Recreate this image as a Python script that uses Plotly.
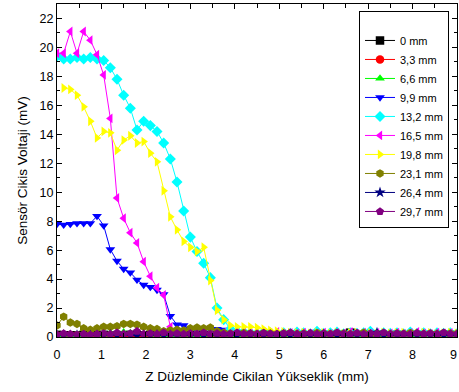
import plotly.graph_objects as go

x_mm = [0.0, 0.15, 0.3, 0.45, 0.6, 0.75, 0.9, 1.05, 1.2, 1.35,
        1.5, 1.65, 1.8, 1.95, 2.1, 2.25, 2.4, 2.55, 2.7, 2.85,
        3.0, 3.15, 3.3, 3.45, 3.6, 3.75, 3.9, 4.05, 4.2, 4.35,
        4.5, 4.65, 4.8, 4.95, 5.1, 5.25, 5.4, 5.55, 5.7, 5.85,
        6.0, 6.15, 6.3, 6.45, 6.6, 6.75, 6.9, 7.05, 7.2, 7.35,
        7.5, 7.65, 7.8, 7.95, 8.1, 8.25, 8.4, 8.55, 8.7, 8.85,
        9.0]

labels = ["0 mm", "3,3 mm", "6,6 mm", "9,9 mm", "13,2 mm",
          "16,5 mm", "19,8 mm", "23,1 mm", "26,4 mm", "29,7 mm"]

y_0_0 = [0.15, 0.10, 0.12, 0.10, 0.15, 0.10, 0.12, 0.15, 0.10, 0.12,
         0.10, 0.15, 0.12, 0.10, 0.15, 0.12, 0.10, 0.20, 0.15, 0.12,
         0.10, 0.15, 0.12, 0.10, 0.15, 0.12, 0.10, 0.12, 0.15, 0.10,
         0.12, 0.10, 0.15, 0.12, 0.10, 0.12, 0.15, 0.10, 0.12, 0.20,
         0.15, 0.12, 0.10, 0.15, 0.30, 0.12, 0.10, 0.15, 0.12, 0.10,
         0.12, 0.15, 0.10, 0.12, 0.10, 0.15, 0.12, 0.10, 0.12, 0.15,
         0.10]
y_3_3 = [0.08, 0.10, 0.12, 0.08, 0.10, 0.12, 0.10, 0.08, 0.12, 0.10,
         0.12, 0.10, 0.08, 0.10, 0.12, 0.15, 0.10, 0.08, 0.10, 0.12,
         0.10, 0.08, 0.12, 0.10, 0.10, 0.12, 0.08, 0.10, 0.12, 0.10,
         0.08, 0.10, 0.12, 0.10, 0.08, 0.12, 0.10, 0.10, 0.08, 0.12,
         0.10, 0.12, 0.08, 0.10, 0.12, 0.10, 0.08, 0.12, 0.10, 0.10,
         0.12, 0.08, 0.10, 0.12, 0.10, 0.08, 0.10, 0.12, 0.10, 0.08,
         0.10]
y_6_6 = [0.15, 0.18, 0.20, 0.15, 0.18, 0.22, 0.20, 0.18, 0.30, 0.25,
         0.32, 0.28, 0.30, 0.22, 0.20, 0.18, 0.20, 0.15, 0.18, 0.20,
         0.18, 0.15, 0.20, 0.18, 0.22, 0.20, 0.18, 0.15, 0.20, 0.18,
         0.20, 0.22, 0.18, 0.15, 0.20, 0.18, 0.22, 0.20, 0.18, 0.25,
         0.20, 0.18, 0.22, 0.20, 0.18, 0.15, 0.20, 0.22, 0.18, 0.20,
         0.18, 0.22, 0.20, 0.18, 0.15, 0.20, 0.18, 0.22, 0.20, 0.18,
         0.20]
y_9_9 = [7.80, 7.75, 7.80, 7.85, 7.85, 7.85, 8.35, 7.70, 6.05, 5.25,
         4.70, 4.45, 3.95, 3.60, 3.45, 3.25, 2.95, 1.45, 0.85, 0.80,
         0.55, 0.50, 0.50, 0.50, 0.55, 0.50, 0.45, 0.30, 0.22, 0.18,
         0.20, 0.15, 0.18, 0.22, 0.15, 0.20, 0.18, 0.15, 0.22, 0.18,
         0.20, 0.15, 0.18, 0.20, 0.22, 0.15, 0.20, 0.30, 0.18, 0.15,
         0.20, 0.18, 0.22, 0.15, 0.20, 0.18, 0.15, 0.20, 0.22, 0.18,
         0.20]
y_13_2 = [19.4, 19.2, 19.2, 19.3, 19.2, 19.3, 19.2, 19.1, 18.6, 17.8,
          16.7, 15.8, 14.3, 14.9, 14.6, 14.2, 13.4, 12.3, 10.7, 8.7,
          6.9, 5.9, 5.1, 4.1, 2.0, 1.2, 0.55, 0.40, 0.35, 0.30,
          0.25, 0.35, 0.30, 0.22, 0.30, 0.25, 0.35, 0.30, 0.22, 0.40,
          0.25, 0.30, 0.35, 0.22, 0.30, 0.25, 0.30, 0.40, 0.22, 0.30,
          0.25, 0.30, 0.22, 0.35, 0.25, 0.30, 0.22, 0.30, 0.25, 0.30,
          0.22]
y_16_5 = [19.6, 19.6, 21.1, 19.6, 21.1, 20.5, 19.5, 18.1, 15.1, 9.6,
          8.2, 7.2, 6.5, 5.2, 4.2, 3.4, 2.9, 0.7, 0.4, 0.3,
          0.25, 0.30, 0.22, 0.28, 0.25, 0.30, 0.22, 0.25, 0.30, 0.25,
          0.22, 0.30, 0.25, 0.35, 0.22, 0.28, 0.25, 0.30, 0.22, 0.25,
          0.30, 0.22, 0.28, 0.25, 0.35, 0.22, 0.30, 0.25, 0.28, 0.22,
          0.25, 0.30, 0.22, 0.28, 0.35, 0.25, 0.22, 0.30, 0.25, 0.28,
          0.25]
y_19_8 = [None, 17.2, 17.1, 16.7, 15.9, 14.9, 13.75, 14.2, 14.1, 12.9,
          13.6, 13.9, 13.4, 13.5, 12.7, 12.1, 10.1, 8.3, 7.4, 6.6,
          6.2, 5.9, 6.2, 3.9, 1.85, 1.2, 0.8, 0.7, 0.7, 0.7,
          0.65, 0.55, 0.45, 0.40, 0.35, 0.30, 0.28, 0.30, 0.25, 0.30,
          0.28, 0.25, 0.30, 0.22, 0.28, 0.30, 0.25, 0.28, 0.22, 0.30,
          0.25, 0.28, 0.30, 0.22, 0.25, 0.30, 0.28, 0.22, 0.25, 0.30,
          0.25]
y_23_1 = [0.8, 1.4, 1.0, 0.9, 0.6, 0.5, 0.6, 0.7, 0.7, 0.75,
          0.9, 0.9, 0.85, 0.7, 0.6, 0.55, 0.4, 0.45, 0.5, 0.45,
          0.6, 0.65, 0.6, 0.65, 0.4, 0.3, 0.25, 0.22, 0.28, 0.25,
          0.22, 0.28, 0.25, 0.20, 0.25, 0.28, 0.22, 0.25, 0.20, 0.28,
          0.25, 0.22, 0.28, 0.25, 0.20, 0.25, 0.30, 0.22, 0.25, 0.28,
          0.20, 0.25, 0.22, 0.28, 0.25, 0.20, 0.25, 0.22, 0.28, 0.25,
          0.22]
y_26_4 = [0.10, 0.15, 0.10, 0.12, 0.08, 0.10, 0.12, 0.10, 0.15, 0.10,
          0.12, 0.10, 0.08, 0.12, 0.10, 0.15, 0.10, 0.12, 0.10, 0.08,
          0.12, 0.10, 0.15, 0.10, 0.12, 0.08, 0.10, 0.12, 0.10, 0.15,
          0.10, 0.12, 0.08, 0.10, 0.15, 0.12, 0.10, 0.08, 0.12, 0.10,
          0.15, 0.10, 0.12, 0.10, 0.08, 0.12, 0.10, 0.15, 0.30, 0.10,
          0.12, 0.10, 0.08, 0.12, 0.10, 0.15, 0.10, 0.12, 0.10, 0.08,
          0.12]
y_29_7 = [0.15, 0.25, 0.20, 0.15, 0.20, 0.15, 0.20, 0.25, 0.20, 0.30,
          0.20, 0.25, 0.40, 0.20, 0.25, 0.20, 0.30, 0.20, 0.25, 0.20,
          0.25, 0.20, 0.30, 0.20, 0.25, 0.20, 0.22, 0.30, 0.20, 0.25,
          0.20, 0.28, 0.22, 0.20, 0.25, 0.30, 0.20, 0.22, 0.28, 0.20,
          0.25, 0.20, 0.30, 0.22, 0.20, 0.28, 0.20, 0.25, 0.22, 0.30,
          0.20, 0.25, 0.22, 0.20, 0.28, 0.22, 0.25, 0.20, 0.30, 0.22,
          0.20]

series = [y_0_0, y_3_3, y_6_6, y_9_9, y_13_2, y_16_5, y_19_8, y_23_1, y_26_4, y_29_7]
colors = ["#000000", "#FF0000", "#00FF00", "#0000FF", "#00FFFF",
          "#FF00FF", "#FFFF00", "#808000", "#000080", "#800080"]
symbols = ["square", "circle", "triangle-up", "triangle-down", "diamond",
           "triangle-left", "triangle-right", "hexagon", "star", "pentagon"]

FONT = "Arial, Liberation Sans, sans-serif"

fig = go.Figure()
for name, ys, c, s in zip(labels, series, colors, symbols):
    fig.add_trace(go.Scatter(
        x=x_mm, y=ys, name=name, mode="lines+markers",
        line=dict(color=c, width=1),
        marker=dict(color=c, symbol=s, size=8.5, line=dict(width=0)),
        connectgaps=False,
    ))

axis_common = dict(
    showline=True, linecolor="black", linewidth=1, mirror="allticks",
    ticks="inside", ticklen=5, tickwidth=1, tickcolor="black",
    showgrid=False, zeroline=False,
    tickfont=dict(family=FONT, size=12.5, color="black"),
)

fig.update_layout(
    width=459, height=392,
    margin=dict(l=57, r=2, t=4, b=55),
    paper_bgcolor="white", plot_bgcolor="white",
    font=dict(family=FONT, color="black"),
    xaxis=dict(range=[0, 9], dtick=1, tick0=0,
               minor=dict(dtick=0.5, ticks="inside", ticklen=4, tickcolor="black"),
               ticklabelstandoff=6,
               title=dict(text="Z Düzleminde Cikilan Yükseklik (mm)",
                          font=dict(family=FONT, size=13.5), standoff=10),
               **axis_common),
    yaxis=dict(range=[0, 23], dtick=2, tick0=0,
               minor=dict(dtick=1, ticks="inside", ticklen=3, tickcolor="black"),
               title=dict(text="Sensör Cikis Voltaji (mV)",
                          font=dict(family=FONT, size=13.5), standoff=8),
               **axis_common),
    legend=dict(x=0.98, xanchor="right", y=0.98, yanchor="top",
                bgcolor="white", bordercolor="black", borderwidth=1,
                font=dict(family=FONT, size=11), itemwidth=30,
                tracegroupgap=0,
                title=dict(text="&nbsp;", font=dict(family=FONT, size=11))),
    showlegend=True,
)

# last x tick label sits on the right edge of the frame
fig.add_annotation(x=9, y=0, xref="x", yref="paper", text="9",
                   showarrow=False, yanchor="top", yshift=-9,
                   xanchor="right", xshift=2,
                   font=dict(family=FONT, size=12.5, color="black"))

fig.write_html("out.html")
